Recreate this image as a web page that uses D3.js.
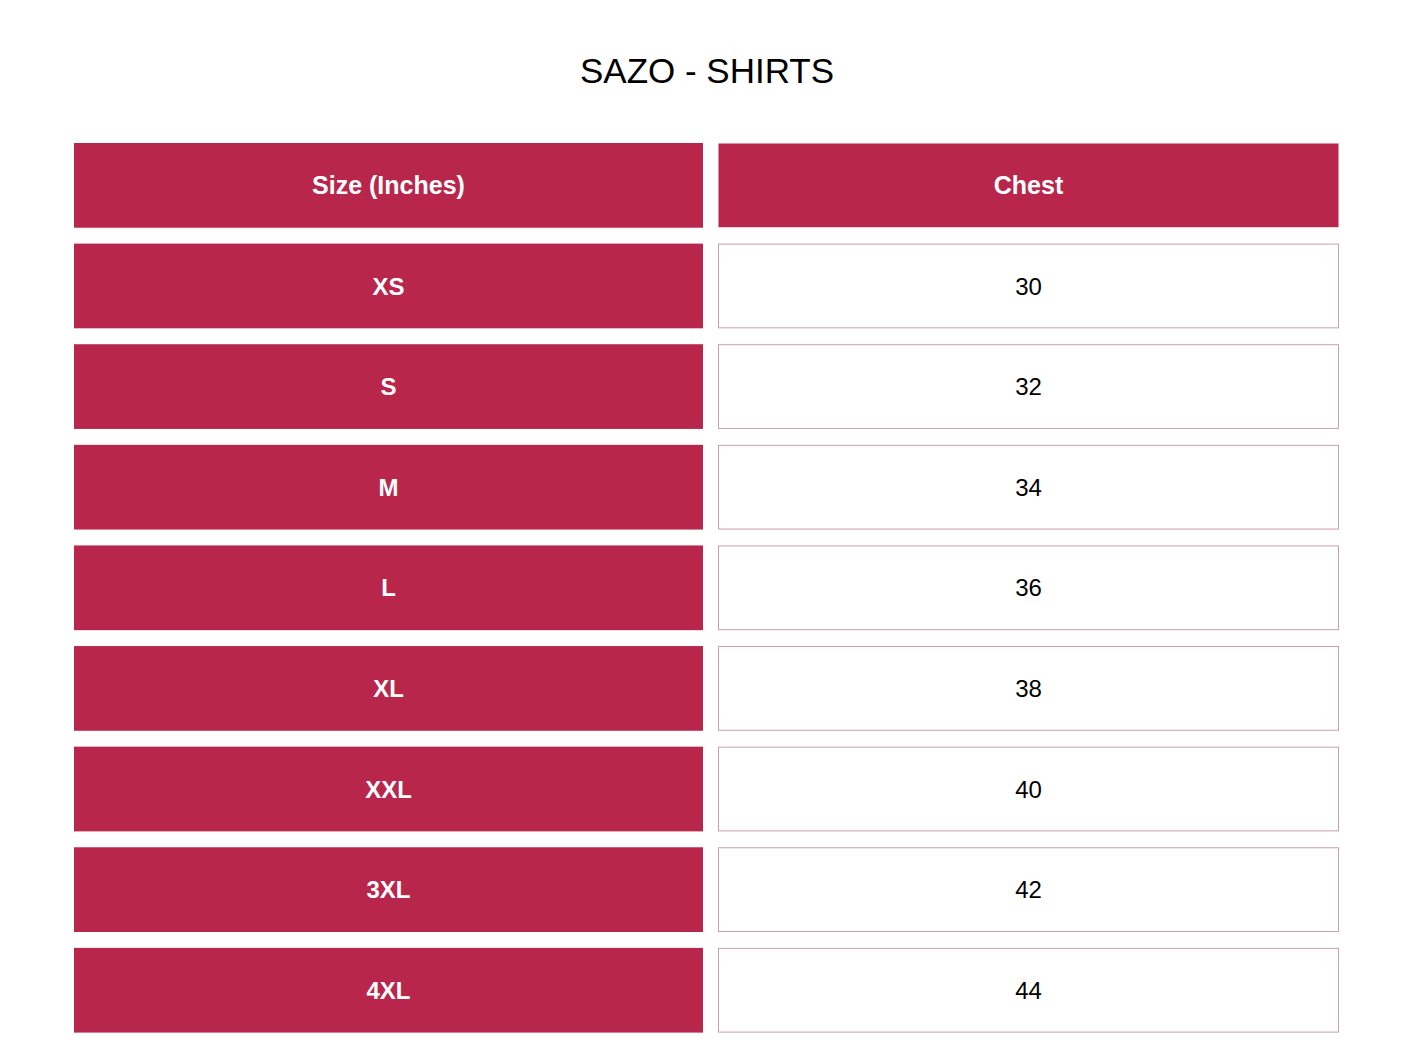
<!DOCTYPE html><html><head><meta charset="utf-8"><script src="https://cdn.jsdelivr.net/npm/d3@7"></script>
<style>body{margin:0;background:#fff}</style></head><body><svg id="c" width="1414" height="1054"></svg>
<script>
const title="SAZO - SHIRTS";
const headers=["Size (Inches)","Chest"];
const sizes=["XS","S","M","L","XL","XXL","3XL","4XL"];
const chest=[30,32,34,36,38,40,42,44];
const red="#B9264B";
const svg=d3.select("#c");
const font="Helvetica, Arial, 'Liberation Sans', sans-serif";
svg.append("text").attr("x",707).attr("y",83).attr("text-anchor","middle").attr("font-family",font).attr("font-size",35).attr("fill","#000").text(title);
const rows=["header",...sizes];
const y=d3.scaleBand().domain(d3.range(rows.length)).range([143,1017+15.6]).paddingInner(0.158).paddingOuter(0);
const colX=[[74,703],[718,1339]];
rows.forEach((r,i)=>{
  const y0=y(i), h=y.bandwidth();
  const isH=i===0;
  // left
  svg.append("rect").attr("x",colX[0][0]).attr("y",y0).attr("width",colX[0][1]-colX[0][0]).attr("height",h).attr("fill",red);
  svg.append("text").attr("x",(colX[0][0]+colX[0][1])/2).attr("y",y0+h/2).attr("dy","0.36em").attr("text-anchor","middle").attr("font-family",font).attr("font-weight","bold").attr("font-size",isH?25:24).attr("fill","#fff").text(isH?headers[0]:sizes[i-1]);
  // right
  svg.append("rect").attr("x",colX[1][0]+0.5).attr("y",y0+0.5).attr("width",colX[1][1]-colX[1][0]-1).attr("height",h-1)
    .attr("fill",isH?red:"#fff").attr("stroke",isH?"none":"#c9a0aa").attr("stroke-width",1);
  svg.append("text").attr("x",(colX[1][0]+colX[1][1])/2).attr("y",y0+h/2).attr("dy","0.36em").attr("text-anchor","middle").attr("font-family",font).attr("font-weight",isH?"bold":"normal").attr("font-size",isH?25:24).attr("fill",isH?"#fff":"#000").text(isH?headers[1]:chest[i-1]);
});
</script></body></html>
